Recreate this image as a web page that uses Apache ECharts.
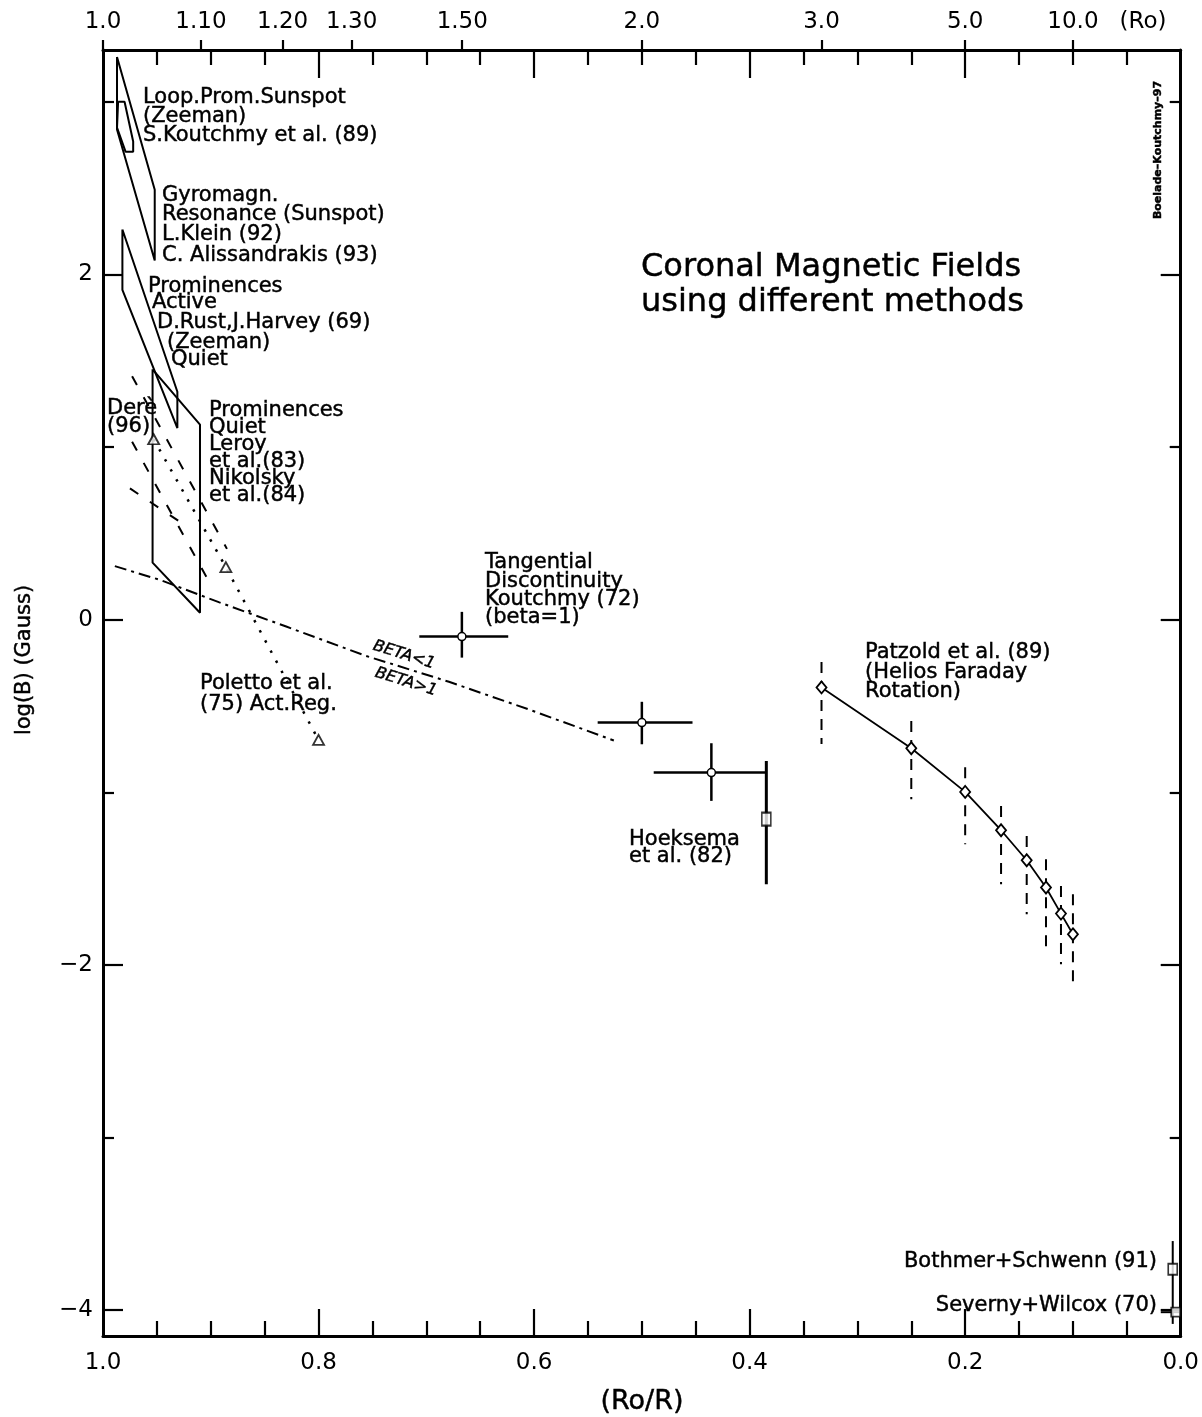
<!DOCTYPE html>
<html><head><meta charset="utf-8">
<script src="https://cdn.jsdelivr.net/npm/echarts@6/dist/echarts.min.js"></script>
<style>html,body{margin:0;padding:0;background:#fff}#c{width:1202px;height:1417px}</style>
</head><body><div id="c"></div>
<script>
// ---------- axis values ----------
const yTicksMajor = [-4, -2, 0, 2];
const yTicksMinor = [-3, -1, 1, 3];
const xLabels = [1.0, 0.8, 0.6, 0.4, 0.2, 0.0];
const xTicksMajor = [0.8, 0.6, 0.4, 0.2];
const xTicksMinor = [0.95,0.9,0.85,0.75,0.7,0.65,0.55,0.5,0.45,0.35,0.3,0.25,0.15,0.1,0.05];
const topR = [1.0, 1.1, 1.2, 1.3, 1.5, 2.0, 3.0, 5.0, 10.0];
const topRText = ['1.0','1.10','1.20','1.30','1.50','2.0','3.0','5.0','10.0'];
const topRoPos = 0.035;
const topRoText = '(Ro)';

// ---------- data (x = Ro/R, y = log B) ----------
const loopProm = [[0.986,3.00],[0.980,3.00],[0.972,2.77],[0.972,2.71],[0.979,2.71],[0.987,2.85],[0.986,3.00]];
const gyromagn = [[0.987,3.26],[0.952,2.49],[0.952,2.08],[0.987,2.84],[0.987,3.26]];
const promActive = [[0.982,2.26],[0.931,1.32],[0.931,1.11],[0.982,1.91],[0.982,2.26]];
const promQuiet = [[0.954,1.45],[0.910,1.13],[0.910,0.04],[0.954,0.33],[0.954,1.45]];
const dere1 = [[0.973,1.41],[0.885,0.41]];
const dere2 = [[0.973,1.03],[0.899,0.19]];
const dere3 = [[0.975,0.76],[0.927,0.56]];
const polettoX = [0.953, 0.886, 0.800];
const polettoY = [1.045, 0.304, -0.697];
const betaX = [0.989,0.947,0.892,0.830,0.756,0.679,0.605,0.526];
const betaY = [0.31,0.23,0.10,-0.04,-0.21,-0.36,-0.52,-0.70];
const tdX = [0.667, 0.500, 0.4355];
const tdY = [-0.098, -0.596, -0.886];
const tdXLo = [0.624, 0.453, 0.3855];
const tdXHi = [0.7065, 0.541, 0.489];
const tdYLo = [-0.22, -0.722, -1.050];
const tdYHi = [0.045, -0.476, -0.716];
const hoekX = [0.3845], hoekY = [-1.156], hoekYLo = [-1.533], hoekYHi = [-0.819];
const patzX = [0.3333, 0.25, 0.2, 0.1667, 0.1429, 0.125, 0.1111, 0.1];
const patzY = [-0.393, -0.745, -0.998, -1.220, -1.394, -1.552, -1.703, -1.823];
const patzLo = [-0.721, -1.041, -1.301, -1.533, -1.707, -1.927, -1.997, -2.130];
const patzHi = [-0.246, -0.587, -0.855, -1.079, -1.253, -1.388, -1.543, -1.591];
const bothX = [0.0074], bothY = [-3.763], bothLo = [-4.08], bothHi = [-3.60];
const sevX = [0.0046], sevY = [-4.012], sevXLo = [0.0185], sevXHi = [0.0];

// ---------- chart ----------
const FONT = '"DejaVu Sans", sans-serif';
const K = '#000';
const zip = (a, b) => a.map((v, i) => [v, b[i]]);
function lineSeries(data, dash, width) {
  return {type:'line', data, symbol:'none', silent:true, animation:false, clip:false,
    lineStyle:{color:K, width: width || 2, type: dash || 'solid'}, z:3};
}
function xAx(pos, ticks, len, inside, labelVals, fmt, showLine) {
  return {type:'value', min:0, max:1, inverse:true, position:pos,
    axisLine:{show:!!showLine, onZero:false, lineStyle:{color:K, width:3}},
    axisTick:{show:true, inside, length:len, customValues:ticks, lineStyle:{color:K, width:2.2}},
    axisLabel:{show:!!labelVals, customValues:labelVals || [], formatter:fmt, color:K,
      fontSize:23, fontFamily:FONT, margin:16},
    splitLine:{show:false}};
}
function yAx(pos, ticks, len, labels, showLine) {
  return {type:'value', min:-4.15, max:3.3, position:pos,
    axisLine:{show:!!showLine, onZero:false, lineStyle:{color:K, width:3}},
    axisTick:{show:true, inside:true, length:len, customValues:ticks, lineStyle:{color:K, width:2.2}},
    axisLabel:{show:!!labels, customValues:labels ? ticks : [], color:K, fontSize:23, fontFamily:FONT, margin:10,
      formatter:v => v < 0 ? '\u2212' + Math.abs(v) : String(v)},
    splitLine:{show:false}};
}
const topFmt = v => {
  if (Math.abs(v - topRoPos) < 1e-6) return topRoText;
  const i = topR.findIndex(r => Math.abs(1 / r - v) < 1e-6);
  return i >= 0 ? topRText[i] : '';
};

const errBars = {
  type:'custom', silent:true, animation:false, clip:false, z:4,
  data: tdX.map((x, i) => [x, tdY[i], tdXLo[i], tdXHi[i], tdYLo[i], tdYHi[i]]),
  encode:{x:[0,2,3], y:[1,4,5]},
  renderItem:(p, api) => {
    const c = api.coord([api.value(0), api.value(1)]);
    const l = api.coord([api.value(2), api.value(1)]);
    const r = api.coord([api.value(3), api.value(1)]);
    const b = api.coord([api.value(0), api.value(4)]);
    const t = api.coord([api.value(0), api.value(5)]);
    return {type:'group', children:[
      {type:'line', shape:{x1:l[0], y1:l[1], x2:r[0], y2:r[1]}, style:{stroke:K, lineWidth:2.5}},
      {type:'line', shape:{x1:t[0], y1:t[1], x2:b[0], y2:b[1]}, style:{stroke:K, lineWidth:2.5}},
      {type:'circle', shape:{cx:c[0], cy:c[1], r:4}, style:{fill:'#fff', stroke:K, lineWidth:1.5}}
    ]};
  }
};
function vBar(xs, ys, lo, hi, dash, w) {
  return {
    type:'custom', silent:true, animation:false, clip:false, z:2,
    data: xs.map((x, i) => [x, ys[i], lo[i], hi[i]]),
    encode:{x:0, y:[1,2,3]},
    renderItem:(p, api) => {
      const t = api.coord([api.value(0), api.value(3)]);
      const b = api.coord([api.value(0), api.value(2)]);
      return {type:'line', shape:{x1:t[0], y1:t[1], x2:b[0], y2:b[1]},
        style:{stroke:K, lineWidth:w, lineDash:dash}};
    }
  };
}
const sevBar = {
  type:'custom', silent:true, animation:false, clip:false, z:2,
  data: sevX.map((x, i) => [x, sevY[i], sevXLo[i], sevXHi[i]]),
  encode:{x:[0,2,3], y:1},
  renderItem:(p, api) => {
    const l = api.coord([api.value(2), api.value(1)]);
    const r = api.coord([api.value(3), api.value(1)]);
    return {type:'line', shape:{x1:l[0], y1:l[1], x2:r[0], y2:r[1]}, style:{stroke:K, lineWidth:2}};
  }
};
function marks(xs, ys, symbol, size) {
  return {type:'scatter', data: zip(xs, ys), symbol, symbolSize:size, silent:true, animation:false, clip:false, z:5,
    itemStyle:{color:'#fff', borderColor:K, borderWidth:1.8}};
}

// ---------- annotations (layout) ----------
const notes = [
  ['Loop.Prom.Sunspot', 143, 98], ['(Zeeman)', 143, 117], ['S.Koutchmy et al. (89)', 143, 136],
  ['Gyromagn.', 162, 196], ['Resonance (Sunspot)', 162, 215], ['L.Klein (92)', 162, 235], ['C. Alissandrakis (93)', 162, 256],
  ['Prominences', 148, 287], ['Active', 152, 303], ['D.Rust,J.Harvey (69)', 157, 323], ['(Zeeman)', 167, 343], ['Quiet', 171, 360],
  ['Derè', 107, 409], ['(96)', 107, 427],
  ['Prominences', 209, 411], ['Quiet', 209, 428], ['Leroy', 209, 445], ['et al.(83)', 209, 462], ['Nikolsky', 209, 479], ['et al.(84)', 209, 496],
  ['Tangential', 485, 563], ['Discontinuity', 485, 582], ['Koutchmy (72)', 485, 600], ['(beta=1)', 485, 618],
  ['Poletto et al.', 200, 684], ['(75) Act.Reg.', 200, 705],
  ['Hoeksema', 629, 840], ['et al. (82)', 629, 857],
  ['Patzold et al. (89)', 865, 653], ['(Helios Faraday', 865, 673], ['Rotation)', 865, 692]
];
const TS = {fill:K, stroke:K, lineWidth:0.45};
function txt(s, x, y, font, align, rot) {
  return {type:'text', x, y, rotation:rot || 0, silent:true, z:10,
    style:Object.assign({text:s, font, align, verticalAlign:'middle', textAlign:align, textVerticalAlign:'middle'}, TS)};
}
const graphics = notes.map(n => txt(n[0], n[1], n[2], '21px ' + FONT, 'left'));
graphics.push(txt('Bothmer+Schwenn (91)', 1157, 1262, '21px ' + FONT, 'right'));
graphics.push(txt('Severny+Wilcox (70)', 1157, 1306, '21px ' + FONT, 'right'));
graphics.push(txt('Coronal Magnetic Fields', 641, 268, '32px ' + FONT, 'left'));
graphics.push(txt('using different methods', 641, 303, '32px ' + FONT, 'left'));
graphics.push(txt('BETA<1', 404, 655, 'italic 16px ' + FONT, 'center', -0.30));
graphics.push(txt('BETA>1', 406, 682, 'italic 16px ' + FONT, 'center', -0.30));
graphics.push(txt('log(B) (Gauss)', 25, 660, '21px ' + FONT, 'center', Math.PI / 2));
graphics.push(txt('(Ro/R)', 642, 1402, '27px ' + FONT, 'center'));
graphics.push(txt('Boelade\u2013Koutchmy\u201397', 1158, 150, 'bold 11px ' + FONT, 'center', Math.PI / 2));

const option = {
  animation:false,
  backgroundColor:'#fff',
  grid:{left:103, right:19, top:50, bottom:81, containLabel:false},
  xAxis:[
    xAx('bottom', xTicksMajor, 27, true, xLabels, v => v.toFixed(1), true),
    xAx('bottom', xTicksMinor, 15, true, null, null, false),
    xAx('top', xTicksMajor, 28, true, null, null, true),
    xAx('top', xTicksMinor, 15, true, null, null, false),
    xAx('top', topR.map(r => 1 / r), 10, false, topR.map(r => 1 / r).concat([topRoPos]), topFmt, false)
  ],
  yAxis:[
    yAx('left', yTicksMajor, 20, true, true),
    yAx('left', yTicksMinor, 11, false, false),
    yAx('right', yTicksMajor, 20, false, true),
    yAx('right', yTicksMinor, 11, false, false)
  ],
  series:[
    lineSeries(loopProm, 'solid', 2),
    lineSeries(gyromagn, 'solid', 2),
    lineSeries(promActive, 'solid', 2),
    lineSeries(promQuiet, 'solid', 2),
    lineSeries(dere1, [10, 14], 2),
    lineSeries(dere2, [10, 14], 2),
    lineSeries(dere3, [10, 14], 2),
    lineSeries(zip(polettoX, polettoY), [2.5, 9], 2.5),
    marks(polettoX, polettoY, 'triangle', [11, 10]),
    lineSeries(zip(betaX, betaY), [12, 5, 3, 5], 2),
    errBars,
    vBar(hoekX, hoekY, hoekYLo, hoekYHi, null, 3),
    marks(hoekX, hoekY, 'rect', [9, 13]),
    vBar(patzX, patzY, patzLo, patzHi, [11, 8], 2),
    Object.assign(lineSeries(zip(patzX, patzY), 'solid', 1.8), {symbol:'diamond', symbolSize:[10, 12], showSymbol:true,
      itemStyle:{color:'#fff', borderColor:K, borderWidth:1.8}}),
    vBar(bothX, bothY, bothLo, bothHi, null, 2),
    marks(bothX, bothY, 'rect', [9, 11]),
    sevBar,
    marks(sevX, sevY, 'rect', [9, 9])
  ],
  graphic: graphics
};
const chart = echarts.init(document.getElementById('c'));
chart.setOption(option);
</script></body></html>
